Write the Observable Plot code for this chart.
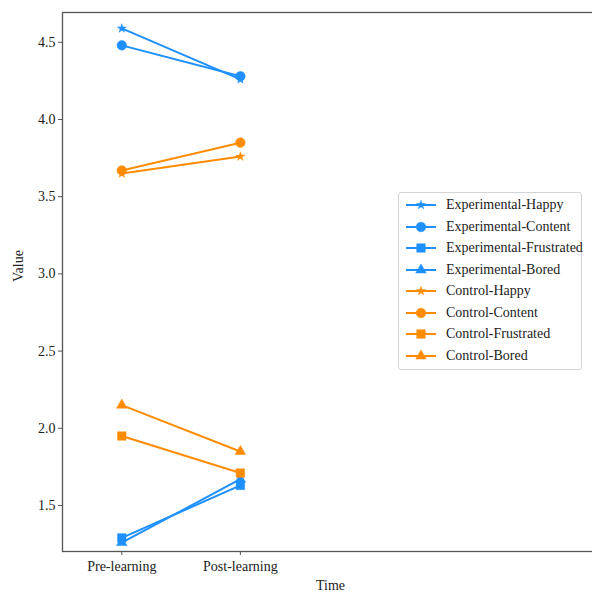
<!DOCTYPE html>
<html>
<head>
<meta charset="utf-8">
<script src="https://cdn.jsdelivr.net/npm/d3@7"></script>
<script src="https://cdn.jsdelivr.net/npm/@observablehq/plot@0.6"></script>
<style>
  html, body { margin: 0; padding: 0; background: #fff; overflow: hidden; }
  #wrap { position: relative; width: 592px; height: 592px; overflow: hidden; }
  #legend { position: absolute; left: 398px; top: 192px; width: 184px; height: 178px;
    border: 1px solid #d4d4d4; border-radius: 3px; background: rgba(255,255,255,0.85);
    font-family: "Liberation Serif", "DejaVu Serif", serif; font-size: 14px; color: #222; box-sizing: border-box; }
  .item { position: absolute; left: 0; height: 20px; display: flex; align-items: center; }
  .item svg { display: block; margin-left: 6px; }
  .item span { margin-left: 9px; white-space: nowrap; }
</style>
</head>
<body>
<div id="wrap"><div id="legend"></div></div>
<script>
// ---- data ----
const times = ["Pre-learning", "Post-learning"];
const groups = ["Experimental", "Control"];
const emotions = ["Happy", "Content", "Frustrated", "Bored"];
const experimentalPre  = [4.59, 4.48, 1.29, 1.26];
const experimentalPost = [4.26, 4.28, 1.63, 1.67];
const controlPre  = [3.65, 3.67, 1.95, 2.15];
const controlPost = [3.76, 3.85, 1.71, 1.85];
const yTicks = [1.5, 2.0, 2.5, 3.0, 3.5, 4.0, 4.5];

const groupColors = {Experimental: "#1e90ff", Control: "#ff8c00"};
const emotionSymbols = {Happy: "star", Content: "circle", Frustrated: "square", Bored: "triangle"};
const emotionR = {Happy: 2.8, Content: 4.8, Frustrated: 4.8, Bored: 3.9};

const valuesByGroup = {
  Experimental: [experimentalPre, experimentalPost],
  Control: [controlPre, controlPost]
};

const series = [];
for (const g of groups) {
  emotions.forEach((e, i) => {
    const pts = times.map((t, ti) => ({t: ti, v: valuesByGroup[g][ti][i]}));
    series.push({name: `${g}-${e}`, group: g, emotion: e, pts});
  });
}

const marks = [];
for (const s of series) {
  const c = groupColors[s.group];
  marks.push(Plot.line(s.pts, {x: "t", y: "v", stroke: c, strokeWidth: 2}));
  marks.push(Plot.dot(s.pts, {x: "t", y: "v", symbol: emotionSymbols[s.emotion], r: emotionR[s.emotion], fill: c, stroke: c, strokeWidth: 0.5}));
}

const chart = Plot.plot({
  width: 600,
  height: 592,
  marginLeft: 62,
  marginRight: 2,
  marginTop: 12,
  marginBottom: 41,
  style: {fontFamily: "'Liberation Serif', 'DejaVu Serif', serif", fontSize: "14px", color: "#222", background: "transparent"},
  x: {domain: [-0.5, 4.02]},
  y: {domain: [1.202, 4.693]},
  marks: [
    Plot.axisX({ticks: [0, 1], tickFormat: (d) => times[d], tickSize: 4, tickPadding: 6, label: null, stroke: "#555", fontSize: 14}),
    Plot.axisY({ticks: yTicks, tickFormat: d3.format(".1f"), tickSize: 4, tickPadding: 3, label: null, stroke: "#555", fontSize: 14}),
    ...marks,
    Plot.frame({stroke: "#555", strokeWidth: 1.3}),
    Plot.text(["Value"], {frameAnchor: "left", dx: -44, rotate: -90, fontSize: 14, fill: "#222"}),
    Plot.text(["Time"], {frameAnchor: "bottom", dy: 38, fontSize: 14, fill: "#222"})
  ]
});
chart.style.display = "block";
chart.style.maxWidth = "none";
chart.setAttribute("width", 600);
chart.style.width = "600px";
chart.style.height = "592px";
document.getElementById("wrap").prepend(chart);

// ---- legend ----
const legend = document.getElementById("legend");
series.forEach((s, i) => {
  const c = groupColors[s.group];
  const item = document.createElement("div");
  item.className = "item";
  item.style.top = (2 + i * 21.5) + "px";
  const r = emotionR[s.emotion];
  const symType = {star: d3.symbolStar, circle: d3.symbolCircle, square: d3.symbolSquare, triangle: d3.symbolTriangle}[emotionSymbols[s.emotion]];
  const path = d3.symbol(symType, Math.PI * r * r)();
  item.innerHTML = `<svg width="32" height="20"><line x1="1" x2="31" y1="10" y2="10" stroke="${c}" stroke-width="2"/><path d="${path}" transform="translate(16,10)" fill="${c}" stroke="${c}" stroke-width="0.5"/></svg><span>${s.name}</span>`;
  legend.appendChild(item);
});
</script>
</body>
</html>
